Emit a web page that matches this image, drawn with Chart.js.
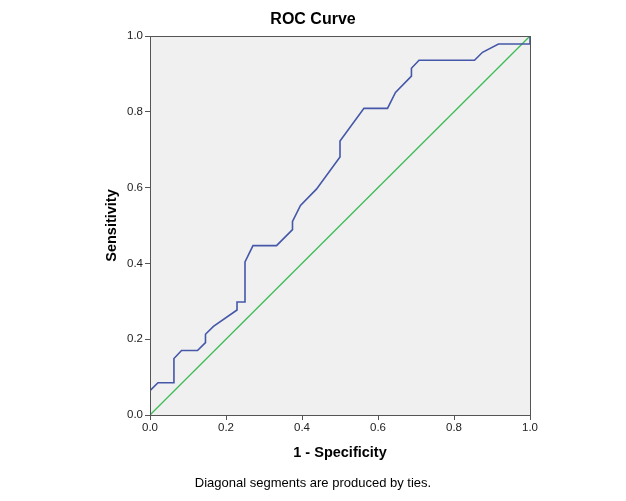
<!DOCTYPE html>
<html>
<head>
<meta charset="utf-8">
<script src="https://cdn.jsdelivr.net/npm/chart.js@4.4.1/dist/chart.umd.min.js"></script>
<style>
  html, body { margin: 0; padding: 0; background: #fff; }
  #wrap { width: 626px; height: 501px; }
</style>
</head>
<body>
<div id="wrap"><canvas id="chart"></canvas></div>
<script>
// ROC curve points (1 - specificity, sensitivity)
const fpr = [0, 0, 0.021, 0.063, 0.063, 0.083, 0.125, 0.146, 0.146, 0.167, 0.229, 0.229, 0.25, 0.25,
  0.271, 0.333, 0.375, 0.375, 0.396, 0.438, 0.5, 0.5, 0.563, 0.625, 0.646, 0.688, 0.688, 0.708,
  0.854, 0.875, 0.917, 1, 1];
const tpr = [0, 0.064, 0.085, 0.085, 0.149, 0.17, 0.17, 0.191, 0.213, 0.234, 0.277, 0.298, 0.298, 0.404,
  0.447, 0.447, 0.489, 0.511, 0.553, 0.596, 0.681, 0.723, 0.809, 0.809, 0.851, 0.894, 0.915, 0.936,
  0.936, 0.957, 0.979, 0.979, 1];
const refLine = [0, 1];
const tickValues = [0, 0.2, 0.4, 0.6, 0.8, 1.0];

const chartTitle = "ROC Curve";
const xTitle = "1 - Specificity";
const yTitle = "Sensitivity";
const footnote = "Diagonal segments are produced by ties.";

const font = "'Liberation Sans', Arial, sans-serif";

const frame = {
  id: "frame",
  beforeDraw(chart) {
    const { ctx, chartArea: a } = chart;
    ctx.save();
    ctx.fillStyle = "#f0f0f0";
    ctx.fillRect(a.left, a.top, a.right - a.left, a.bottom - a.top);
    ctx.restore();
  },
  afterDraw(chart) {
    const { ctx, chartArea: a } = chart;
    ctx.save();
    ctx.strokeStyle = "#555";
    ctx.lineWidth = 1;
    ctx.strokeRect(a.left + 0.5, a.top + 0.5, a.right - a.left, a.bottom - a.top);
    ctx.fillStyle = "#000";
    ctx.textAlign = "center";
    ctx.textBaseline = "middle";
    ctx.font = "bold 16px " + font;
    ctx.fillText(chartTitle, 313, 20);
    ctx.font = "bold 14.5px " + font;
    ctx.fillText(xTitle, (a.left + a.right) / 2, 453);
    ctx.font = "13px " + font;
    ctx.fillText(footnote, 313, 483);
    ctx.translate(112, (a.top + a.bottom) / 2);
    ctx.rotate(-Math.PI / 2);
    ctx.font = "bold 14.5px " + font;
    ctx.fillText(yTitle, 0, 0);
    ctx.restore();
  }
};

new Chart(document.getElementById("chart"), {
  type: "scatter",
  data: {
    datasets: [
      {
        data: fpr.map((x, i) => ({ x: x, y: tpr[i] })),
        showLine: true,
        borderColor: "#4457a8",
        borderWidth: 1.6,
        pointRadius: 0,
        tension: 0
      },
      {
        data: refLine.map(v => ({ x: v, y: v })),
        showLine: true,
        borderColor: "#3dbb55",
        borderWidth: 1.3,
        pointRadius: 0
      }
    ]
  },
  options: {
    responsive: true,
    maintainAspectRatio: false,
    animation: false,
    layout: { padding: { top: 36, right: 96, left: 0, bottom: 0 } },
    plugins: {
      legend: { display: false },
      tooltip: { enabled: false }
    },
    scales: {
      x: {
        type: "linear",
        min: 0,
        max: 1,
        afterBuildTicks: s => { s.ticks = tickValues.map(v => ({ value: v })); },
        afterFit: s => { s.height = 86; },
        grid: { drawOnChartArea: false, color: "#555", tickLength: 5 },
        border: { color: "#555" },
        ticks: {
          color: "#222",
          font: { family: font, size: 11.5 },
          padding: 1,
          maxRotation: 0,
          callback: v => v.toFixed(1)
        }
      },
      y: {
        type: "linear",
        min: 0,
        max: 1,
        afterBuildTicks: s => { s.ticks = tickValues.map(v => ({ value: v })); },
        afterFit: s => { s.width = 150; },
        grid: { drawOnChartArea: false, color: "#555", tickLength: 5 },
        border: { color: "#555" },
        ticks: {
          color: "#222",
          font: { family: font, size: 11.5 },
          padding: 2,
          callback: v => v.toFixed(1)
        }
      }
    }
  },
  plugins: [frame]
});
</script>
</body>
</html>
